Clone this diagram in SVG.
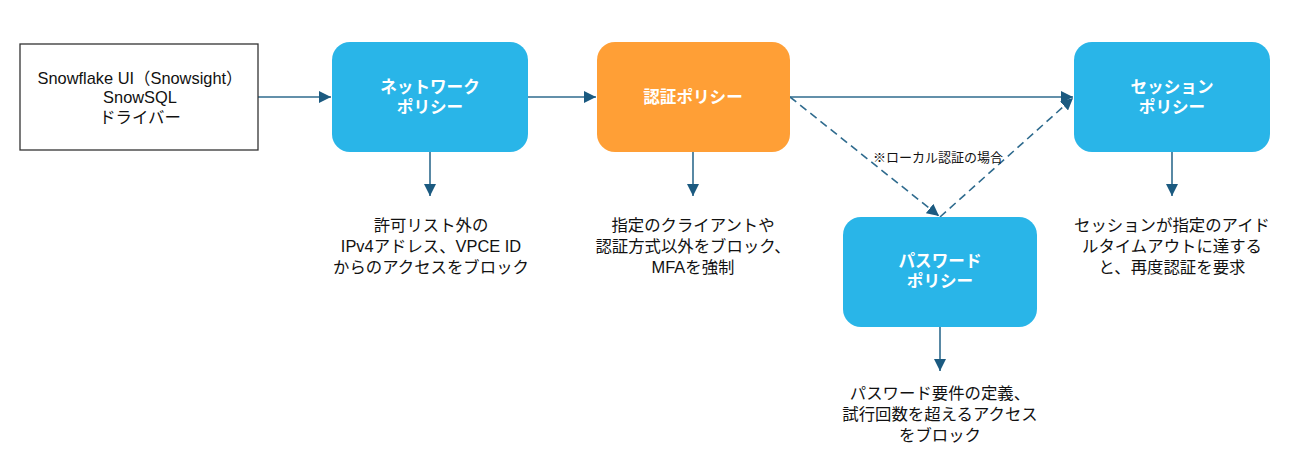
<svg xmlns="http://www.w3.org/2000/svg" width="1290" height="468" viewBox="0 0 1290 468">
<style>
text{font-family:"Liberation Sans","Noto Sans CJK JP",sans-serif;}
.desc{font-size:16.4px;fill:#111;text-anchor:middle;}
.lbl{font-size:16.6px;font-weight:bold;fill:#fff;text-anchor:middle;}
.small{font-size:13px;fill:#111;text-anchor:middle;}
.line{stroke:#2F6B8E;stroke-width:1.6;fill:none;}
.dash{stroke-dasharray:8,5;}
.blue{fill:#29B5E8;}
.orange{fill:#FF9F36;}
</style>
<defs>
<marker id="ahl" viewBox="0 0 10 10" refX="10" refY="5" markerWidth="12" markerHeight="12" markerUnits="userSpaceOnUse" orient="auto">
<path d="M0,0 L10,5 L0,10 z" fill="#1B5A80"/>
</marker>
</defs>
<rect width="1290" height="468" fill="#fff"/>
<g id="connectors">
<line class="line" x1="258" y1="97" x2="331" y2="97" marker-end="url(#ahl)"/>
<line class="line" x1="528" y1="97" x2="596" y2="97" marker-end="url(#ahl)"/>
<line class="line" x1="790" y1="97" x2="1073" y2="97" marker-end="url(#ahl)"/>
<line class="line dash" x1="790" y1="97" x2="939" y2="216" marker-end="url(#ahl)"/>
<line class="line dash" x1="940" y1="217" x2="1073" y2="98" marker-end="url(#ahl)"/>
<line class="line" x1="430" y1="152" x2="430" y2="196" marker-end="url(#ahl)"/>
<line class="line" x1="693" y1="152" x2="693" y2="196" marker-end="url(#ahl)"/>
<line class="line" x1="1172" y1="152" x2="1172" y2="196" marker-end="url(#ahl)"/>
<line class="line" x1="940" y1="327" x2="940" y2="371" marker-end="url(#ahl)"/>
<text class="small" x="938" y="162">※ローカル認証の場合</text>
</g>
<g id="client">
<rect x="20" y="44" width="238" height="106" fill="#fff" stroke="#333" stroke-width="1.3"/>
<text class="desc" x="140" y="84">Snowflake UI（Snowsight）</text>
<text class="desc" x="140" y="103">SnowSQL</text>
<text class="desc" x="140" y="123">ドライバー</text>
</g>
<g id="network">
<rect class="blue" x="332" y="42" width="196" height="110" rx="18"/>
<text class="lbl" x="430" y="93">ネットワーク</text>
<text class="lbl" x="430" y="113">ポリシー</text>
</g>
<g id="network-desc">
<text class="desc" x="431" y="231">許可リスト外の</text>
<text class="desc" x="431" y="252">IPv4アドレス、VPCE ID</text>
<text class="desc" x="431" y="273">からのアクセスをブロック</text>
</g>
<g id="auth">
<rect class="orange" x="597" y="42" width="193" height="110" rx="18"/>
<text class="lbl" x="693" y="103">認証ポリシー</text>
</g>
<g id="auth-desc">
<text class="desc" x="693" y="231">指定のクライアントや</text>
<text class="desc" x="693" y="252">認証方式以外をブロック、</text>
<text class="desc" x="693" y="273">MFAを強制</text>
</g>
<g id="session">
<rect class="blue" x="1074" y="42" width="196" height="110" rx="18"/>
<text class="lbl" x="1172" y="93">セッション</text>
<text class="lbl" x="1172" y="113">ポリシー</text>
</g>
<g id="session-desc">
<text class="desc" x="1172" y="231">セッションが指定のアイド</text>
<text class="desc" x="1172" y="252">ルタイムアウトに達する</text>
<text class="desc" x="1172" y="273">と、再度認証を要求</text>
</g>
<g id="password">
<rect class="blue" x="843" y="217" width="194" height="110" rx="18"/>
<text class="lbl" x="940" y="267">パスワード</text>
<text class="lbl" x="940" y="287">ポリシー</text>
</g>
<g id="password-desc">
<text class="desc" x="940" y="399">パスワード要件の定義、</text>
<text class="desc" x="940" y="420">試行回数を超えるアクセス</text>
<text class="desc" x="940" y="441">をブロック</text>
</g>
</svg>
